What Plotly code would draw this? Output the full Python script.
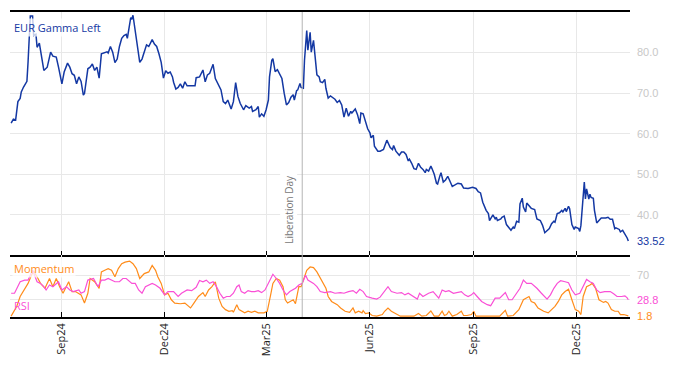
import pandas as pd
import plotly.graph_objects as go

BASE_DATE = "2024-07-17"

# EUR Gamma Left (days since BASE_DATE, value)
gamma_day = [1,3,5,7,9,10,12,15,16,18,20,21,23,24,26,28,30,33,36,38,41,43,46,48,51,53,55,57,59,61,63,65,66,69,71,73,75,77,79,81,84,86,87,89,91,93,95,97,99,101,103,104,107,108,109,112,115,117,119,121,123,126,128,130,132,134,136,138,140,142,144,145,147,149,151,153,155,157,164,165,168,171,173,175,177,180,182,185,187,189,191,193,196,198,200,202,204,207,209,212,214,215,218,220,221,223,225,227,229,230,232,233,235,237,239,241,243,245,247,249,251,252,254,255,257,258,260,261,263,264,266,267,269,270,272,274,275,277,279,280,282,284,286,288,290,292,294,296,298,300,302,303,306,308,310,311,313,315,317,319,320,322,323,326,328,331,333,334,337,339,340,342,345,347,349,351,353,354,356,358,360,362,364,366,368,369,371,373,374,376,378,379,381,382,384,386,388,390,392,394,397,400,402,406,410,413,415,417,419,422,424,425,427,428,430,431,432,435,436,438,440,442,444,446,447,449,451,452,454,455,457,458,460,462,465,467,470,472,474,475,478,480,482,483,485,487,489,490,492,493,495,496,498,500,501,504,505,506,509,510,511,513,514,515,517,518,520,522,524,528,530,532,534,536,537,540,541,543,545,547,548]
gamma_val = [62.6,63.6,63.4,67.9,68.7,70.3,71.5,72.9,77.6,89.0,89.0,84.2,84.5,81.3,82.3,79.3,75.6,76.4,80.1,79.1,78.9,76.4,72.3,75.2,77.4,76.4,74.8,74.4,72.3,74.0,72.9,69.5,69.9,76.0,76.4,77.2,75.6,76.4,73.7,79.7,79.9,80.2,79.9,81.5,80.1,77.5,78.4,81.5,83.5,84.2,84.5,83.5,88.6,88.2,89.2,83.5,77.6,78.4,80.5,81.9,81.5,83.2,82.1,81.5,79.7,77.6,73.7,75.5,74.9,75.2,74.0,72.7,71.0,71.4,72.3,71.2,72.8,71.8,71.8,73.8,74.0,75.7,72.8,74.5,74.9,77.1,73.6,72.0,70.8,67.9,67.4,68.3,66.1,67.9,72.6,69.2,67.5,65.9,66.9,66.3,66.7,65.5,65.9,66.7,64.1,64.9,64.3,65.9,68.3,74.0,78.1,78.5,75.3,75.8,74.7,73.6,70.0,67.1,67.7,69.0,69.6,68.3,70.6,70.8,72.4,71.4,71.2,78.1,85.4,80.6,85.0,80.1,83.0,79.8,74.5,74.0,72.8,72.6,73.4,71.2,68.8,69.3,68.8,68.5,67.7,68.2,67.1,64.1,66.3,64.3,65.5,65.1,66.1,64.7,62.5,65.1,64.9,63.0,61.2,60.2,59.0,59.6,56.9,55.7,55.7,56.1,57.8,58.4,56.6,56.1,57.1,55.7,54.7,55.5,55.5,54.9,53.3,53.7,52.7,51.4,51.2,52.7,51.7,51.2,50.4,51.2,50.8,52.0,51.4,50.0,47.8,47.6,49.6,50.4,48.1,48.6,49.5,48.4,47.0,47.3,47.8,47.6,46.6,46.5,46.8,46.5,45.7,45.4,43.1,41.1,40.3,38.6,39.8,40.0,39.0,39.4,38.6,39.0,39.4,39.7,37.6,37.0,36.2,37.0,36.6,38.4,38.2,42.7,44.1,41.9,40.7,42.9,42.3,41.6,41.3,39.0,38.6,37.4,35.6,35.8,36.6,37.8,38.4,38.2,40.3,40.5,41.1,40.7,41.6,40.8,42.1,41.5,37.6,36.4,37.0,36.6,35.9,37.4,48.1,43.9,46.4,43.9,45.1,44.3,44.1,41.1,38.0,38.6,39.2,39.2,39.4,38.9,38.9,36.6,36.8,36.4,35.8,36.2,35.4,34.3,33.52]

# Momentum
mom_day = [1,6,9,13,16,19,21,24,27,31,35,38,41,44,47,52,55,58,61,63,66,69,71,75,79,81,84,87,90,93,96,99,102,106,109,112,115,119,123,126,129,131,134,137,140,143,146,151,155,160,163,167,171,173,176,179,182,185,188,191,194,197,198,201,203,205,208,211,214,217,220,225,228,231,233,236,239,242,244,246,248,251,253,256,258,261,263,266,269,272,275,278,280,282,285,290,293,297,301,304,306,309,312,313,315,318,321,325,330,332,335,338,343,346,352,358,362,365,369,373,376,380,383,385,387,389,392,396,400,402,405,409,411,413,420,426,430,434,439,441,446,451,455,458,460,462,465,468,473,477,480,483,486,489,492,495,498,501,504,506,508,511,514,516,519,522,526,528,530,533,536,539,541,544,548]
mom_val = [1.4,17.8,34.3,48.0,56.2,69.9,77.0,67.2,56.2,48.0,64.4,50.7,64.4,50.7,39.7,58.9,42.5,42.5,39.7,37.0,23.3,39.7,64.4,58.9,48.0,75.4,78.1,80.9,78.1,67.2,80.9,89.1,91.8,93.5,89.1,80.9,64.4,72.6,75.4,86.3,78.1,67.2,56.2,37.0,39.7,28.8,23.3,22.2,23.3,15.1,23.3,34.3,40.8,34.3,45.2,50.7,58.9,31.5,17.8,12.3,9.6,10.7,7.9,20.6,12.3,9.6,6.9,9.6,7.9,9.6,6.9,6.9,9.6,37.0,56.2,64.4,61.7,50.7,28.8,23.3,26.0,28.8,22.2,50.7,50.7,67.2,78.1,83.6,82.5,75.4,64.4,53.5,48.0,34.3,26.0,20.6,15.1,9.6,7.9,15.1,6.9,9.6,6.9,10.7,5.8,6.9,2.5,1.4,4.1,9.6,15.1,9.6,4.1,1.4,1.4,1.4,5.8,1.4,2.5,10.0,1.5,1.4,9.6,2.5,4.1,9.6,1.4,4.1,9.6,2.5,2.5,4.1,9.6,1.4,1.4,1.4,2.5,1.4,11.2,1.4,2.5,12.3,28.8,31.5,34.3,26.0,23.3,15.1,9.6,6.9,12.3,17.8,26.0,37.0,42.5,46.3,28.8,12.3,9.6,4.1,34.3,50.7,53.5,56.2,48.0,28.8,24.4,26.0,23.3,12.3,9.6,9.6,4.1,4.1,1.8]

# RSI
rsi_day = [1,4,9,13,16,20,24,27,30,32,35,38,43,46,50,53,56,61,63,66,69,74,78,81,84,87,93,97,100,103,108,111,114,117,120,126,129,133,137,140,145,149,152,157,161,165,168,171,174,177,180,183,186,189,192,195,198,201,203,205,208,211,214,217,220,223,226,229,233,236,239,242,245,248,253,256,259,262,264,269,272,275,279,284,288,293,296,300,304,307,310,313,316,321,325,328,331,335,338,343,347,350,353,358,361,363,366,371,375,380,383,386,389,393,396,400,403,406,409,411,414,418,423,426,430,434,439,442,445,449,452,455,458,462,467,471,476,479,482,485,488,492,495,498,501,505,508,511,514,517,520,523,527,532,535,538,542,545,547,548]
rsi_val = [39.7,39.7,58.9,61.7,61.7,78.1,58.9,56.2,50.7,45.2,53.5,50.7,58.9,45.2,50.7,45.2,42.5,45.2,39.7,42.5,61.7,64.4,50.7,61.7,61.7,64.4,58.9,58.9,64.4,64.4,56.2,56.2,45.2,39.7,50.7,56.2,53.5,48.0,37.0,42.5,42.5,34.3,39.7,45.2,44.1,49.6,61.0,58.9,61.7,56.2,58.9,50.7,39.7,31.5,34.3,34.3,39.7,50.7,53.5,42.5,39.7,44.1,42.5,42.5,44.1,40.8,45.2,56.2,71.5,64.4,56.2,45.2,37.0,42.5,48.0,53.5,56.2,69.9,61.7,56.2,50.7,42.5,40.8,42.5,39.7,40.8,39.7,42.5,44.1,39.7,46.3,42.5,34.3,31.5,29.9,33.2,40.8,50.7,42.5,39.7,40.8,37.0,39.7,34.3,29.9,39.7,34.3,39.7,42.5,31.5,45.2,42.5,44.1,39.7,40.8,42.5,37.0,34.3,37.0,40.8,34.3,26.0,20.6,18.9,31.5,31.5,40.8,28.8,28.8,39.7,48.0,61.7,56.2,56.2,48.0,39.7,29.9,37.0,48.0,56.2,60.6,58.9,57.3,45.2,37.0,39.7,50.7,62.8,58.9,56.2,45.2,40.8,42.5,42.5,38.7,34.3,34.3,35.4,32.0,28.8]

tick_dates = ["2024-09-01", "2024-12-01", "2025-03-01", "2025-06-01", "2025-09-01", "2025-12-01"]
tick_labels = ["Sep24", "Dec24", "Mar25", "Jun25", "Sep25", "Dec25"]
event_date = "2025-04-02"
event_label = "Liberation Day"

base = pd.Timestamp(BASE_DATE)
gamma_x = base + pd.to_timedelta(gamma_day, unit="D")
mom_x = base + pd.to_timedelta(mom_day, unit="D")
rsi_x = base + pd.to_timedelta(rsi_day, unit="D")

BLUE = "#1438a3"
ORANGE = "#ff8c1a"
PINK = "#fa4fd6"
GRID = "#e8e8e8"
TICKC = "#c8c8c8"

fig = go.Figure()
fig.add_trace(go.Scatter(x=gamma_x, y=gamma_val, mode="lines", line=dict(color=BLUE, width=1.5),
                         xaxis="x", yaxis="y", showlegend=False))
fig.add_trace(go.Scatter(x=mom_x, y=mom_val, mode="lines", line=dict(color=ORANGE, width=1.2),
                         xaxis="x2", yaxis="y2", showlegend=False))
fig.add_trace(go.Scatter(x=rsi_x, y=rsi_val, mode="lines", line=dict(color=PINK, width=1.2),
                         xaxis="x2", yaxis="y2", showlegend=False))

xr = ["2024-07-17", "2026-01-17 12:00"]
BOT = 62 / 307
common_x = dict(range=xr, tickvals=tick_dates, showgrid=True, gridcolor=GRID, gridwidth=1,
                showline=True, linecolor="black", linewidth=1.5, ticks="inside", ticklen=5,
                tickcolor="black", zeroline=False)
# the page body adds an 8px offset, so the figure is sized to fill the remaining window
fig.update_layout(
    width=666, height=358,
    margin=dict(l=2, r=44, t=2, b=49),
    paper_bgcolor="white", plot_bgcolor="white",
    font=dict(family="Liberation Sans, Arial, sans-serif", size=11, color="#222"),
    xaxis=dict(domain=[0, 1], anchor="y", mirror=True, showticklabels=False, **common_x),
    xaxis2=dict(domain=[0, 1], anchor="y2", matches="x", ticktext=tick_labels, tickangle=-90,
                tickfont=dict(family="Open Sans, sans-serif", size=11, color="#222"), **common_x),
    yaxis=dict(domain=[BOT, 1], range=[30, 90], side="right", tickvals=[40, 50, 60, 70, 80],
               tickformat=".1f", showgrid=True, gridcolor=GRID, zeroline=False, ticks="",
               tickfont=dict(color=TICKC, size=11), ticklabelstandoff=6),
    yaxis2=dict(domain=[0, BOT], range=[0, 103], side="right", tickvals=[30, 70], ticktext=["", "70"],
                showgrid=True, gridcolor=GRID, zeroline=False, ticks="",
                tickfont=dict(color=TICKC, size=11), ticklabelstandoff=6),
)

fig.add_shape(type="line", xref="x", yref="paper", x0=event_date, x1=event_date, y0=0, y1=1,
              line=dict(color="#b4b4b4", width=1))
fig.add_annotation(x=event_date, xref="x", y=32.3, yref="y", yanchor="bottom", xanchor="right",
                   xshift=-5, text=event_label, textangle=-90, showarrow=False,
                   font=dict(family="Open Sans, sans-serif", size=10, color="#777"),
                   bgcolor="white", borderpad=1)

lab_font = "Open Sans, sans-serif"
fig.add_annotation(xref="paper", yref="paper", x=0, y=1, xanchor="left", yanchor="top", xshift=2, yshift=-6,
                   text="EUR Gamma Left", showarrow=False, font=dict(family=lab_font, size=11, color=BLUE),
                   bgcolor="rgba(255,255,255,0.75)", borderpad=1)
fig.add_annotation(xref="paper", yref="paper", x=0, y=BOT, xanchor="left", yanchor="top", xshift=2, yshift=-4,
                   text="Momentum", showarrow=False, font=dict(family=lab_font, size=11, color=ORANGE),
                   bgcolor="rgba(255,255,255,0.75)", borderpad=1)
fig.add_annotation(xref="paper", yref="paper", x=0, y=0, xanchor="left", yanchor="bottom", xshift=2, yshift=2,
                   text="RSI", showarrow=False, font=dict(family=lab_font, size=11, color=PINK),
                   bgcolor="rgba(255,255,255,0)", borderpad=1)

# last-value labels
for val, txt, col, yr in [(gamma_val[-1], "33.52", BLUE, "y"), (rsi_val[-1], "28.8", PINK, "y2"),
                          (mom_val[-1], "1.8", ORANGE, "y2")]:
    fig.add_annotation(xref="paper", x=1, xanchor="left", xshift=5, yref=yr, y=val, yanchor="middle",
                       text=txt, showarrow=False, font=dict(size=11, color=col))

fig.write_html("out.html")
